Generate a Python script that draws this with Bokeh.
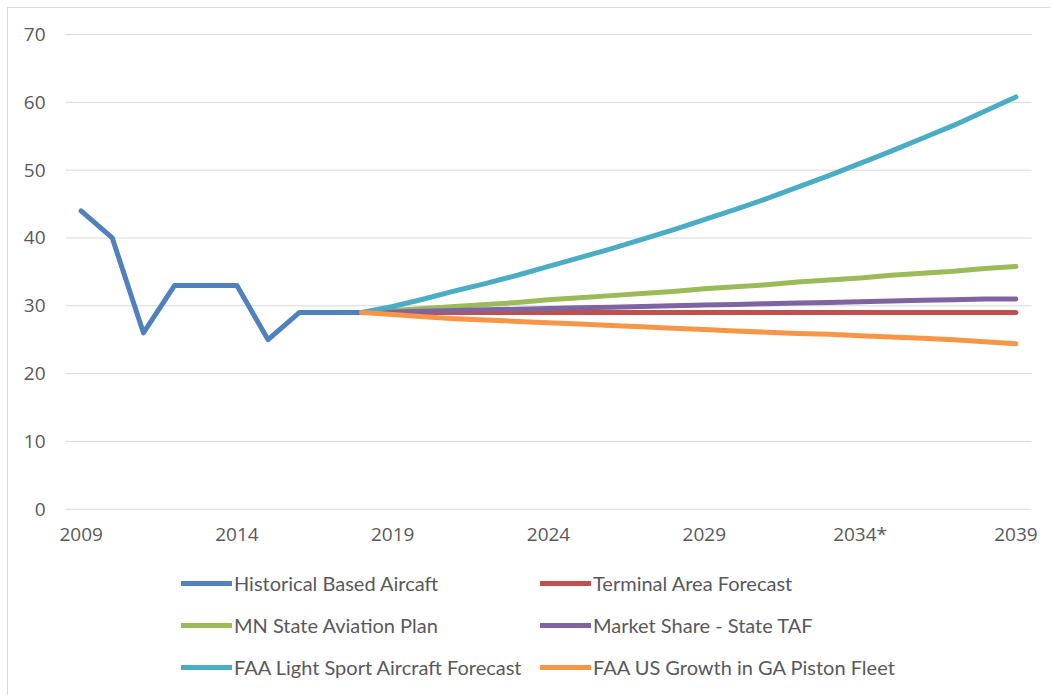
from bokeh.plotting import figure
from bokeh.models import Range1d, FixedTicker, Legend, LegendItem
from bokeh.embed import file_html
from bokeh.resources import INLINE

hist_years = [2009, 2010, 2011, 2012, 2013, 2014, 2015, 2016, 2017, 2018]
hist_values = [44, 40, 26, 33, 33, 33, 25, 29, 29, 29]

fc_years = list(range(2018, 2040))
taf = [29.0] * 22
mn_state = [29.0, 29.3, 29.6, 29.9, 30.2, 30.5, 30.9, 31.2, 31.5, 31.8, 32.1,
            32.5, 32.8, 33.1, 33.5, 33.8, 34.1, 34.5, 34.8, 35.1, 35.5, 35.8]
market_share = [29.0, 29.1, 29.2, 29.3, 29.4, 29.5, 29.6, 29.7, 29.8, 29.9, 30.0,
                30.1, 30.2, 30.3, 30.4, 30.5, 30.6, 30.7, 30.8, 30.9, 31.0, 31.0]
light_sport = [29.0, 29.9, 31.0, 32.2, 33.3, 34.5, 35.8, 37.1, 38.4, 39.8, 41.2,
               42.7, 44.2, 45.8, 47.5, 49.2, 51.0, 52.8, 54.7, 56.6, 58.7, 60.8]
piston = [29.0, 28.7, 28.4, 28.1, 27.9, 27.7, 27.5, 27.3, 27.1, 26.9, 26.7,
          26.5, 26.3, 26.1, 25.9, 25.8, 25.6, 25.4, 25.2, 25.0, 24.7, 24.4]

x_ticks = [2009, 2014, 2019, 2024, 2029, 2034, 2039]
x_tick_labels = ["2009", "2014", "2019", "2024", "2029", "2034*", "2039"]
y_ticks = [0, 10, 20, 30, 40, 50, 60, 70]

names = ["Historical Based Aircaft", "Terminal Area Forecast", "MN State Aviation Plan",
         "Market Share - State TAF", "FAA Light Sport Aircraft Forecast",
         "FAA US Growth in GA Piston Fleet"]
colors = ["#4F81BD", "#C0504D", "#9BBB59", "#8064A2", "#4BACC6", "#F79646"]

# plot-area geometry (pixels): category band 2008.5..2039.5 spans 965px,
# value band 0..70 spans 474px; the frame is widened so axis labels and legend fit
x_lo, x_hi = 2008.5, 2039.5
px_per_year = 965 / 31
px_per_unit = 474 / 70
x_start = x_lo - 57 / px_per_year
x_end = x_hi + 20 / px_per_year
y_bottom = -182 / px_per_unit
y_top = 70 + 26 / px_per_unit

p = figure(width=1043, height=688, output_backend="svg", toolbar_location=None,
           x_range=Range1d(x_start, x_end), y_range=Range1d(y_bottom, y_top),
           min_border_left=0, min_border_right=0, min_border_top=0,
           min_border_bottom=5)
p.margin = (7, 0, 0, 7)
p.styles = {"border-left": "1px solid #d9d9d9", "border-top": "1px solid #d9d9d9"}
p.outline_line_color = None
p.xgrid.grid_line_color = None
p.ygrid.grid_line_color = None

# horizontal gridlines limited to the category band
p.segment(x0=[x_lo] * len(y_ticks), x1=[x_hi] * len(y_ticks), y0=y_ticks, y1=y_ticks,
          line_color="#d9d9d9", line_width=1)

for ax in (p.xaxis[0], p.yaxis[0]):
    ax.axis_line_color = None
    ax.major_tick_line_color = None
    ax.minor_tick_line_color = None
    ax.major_label_text_color = "#595959"
    ax.major_label_text_font = "Open Sans"
    ax.major_label_text_font_size = "19px"

p.xaxis[0].ticker = FixedTicker(ticks=x_ticks)
p.xaxis[0].major_label_overrides = {t: l for t, l in zip(x_ticks, x_tick_labels)}
p.xaxis[0].major_label_standoff = 6
p.xaxis[0].fixed_location = 0
p.yaxis[0].ticker = FixedTicker(ticks=y_ticks)
p.yaxis[0].major_label_standoff = 14
p.yaxis[0].fixed_location = x_lo

series = [(hist_years, hist_values), (fc_years, taf), (fc_years, mn_state),
          (fc_years, market_share), (fc_years, light_sport), (fc_years, piston)]
renderers = []
for (xs, ys), c in zip(series, colors):
    r = p.line(xs, ys, line_color=c, line_width=5, line_cap="round", line_join="round")
    renderers.append(r)


def make_legend(idx, loc):
    lg = Legend(items=[LegendItem(label=names[i], renderers=[renderers[i]]) for i in idx],
                location=loc, orientation="vertical")
    lg.border_line_color = None
    lg.background_fill_alpha = 0
    lg.padding = 0
    lg.margin = 0
    lg.spacing = 18
    lg.glyph_width = 51
    lg.glyph_height = 24
    lg.label_height = 24
    lg.label_standoff = 2
    lg.label_text_font = "Lato"
    lg.label_text_font_size = "20px"
    lg.label_text_color = "#595959"
    return lg


p.add_layout(make_legend([0, 2, 4], (116 + 57, 12)), "center")
p.add_layout(make_legend([1, 3, 5], (475 + 57, 12)), "center")

open("out.html", "w").write(file_html(p, INLINE))
